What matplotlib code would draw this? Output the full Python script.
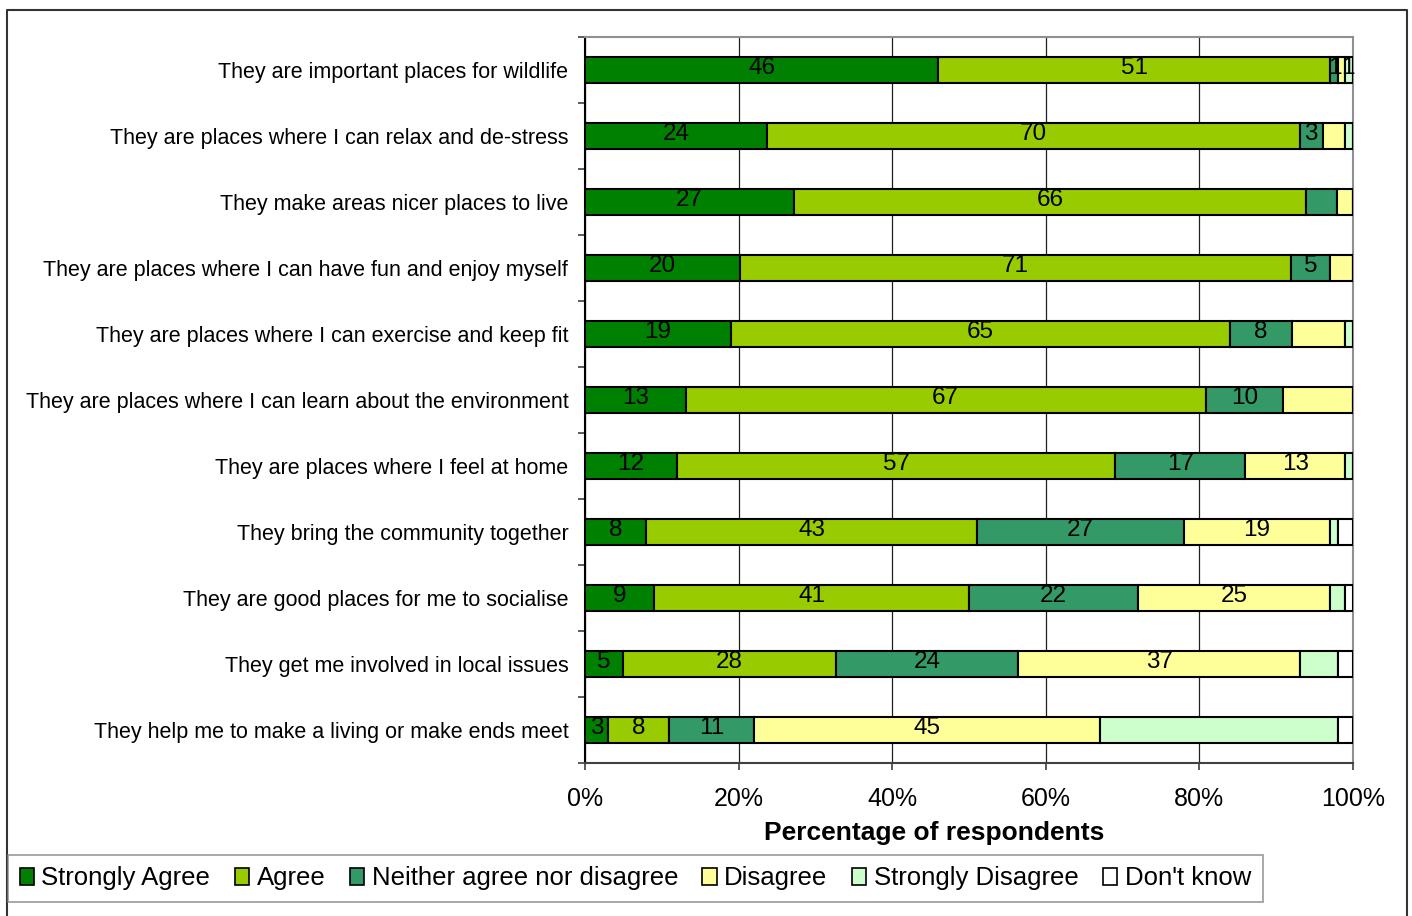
import numpy as np
import matplotlib
matplotlib.use("Agg")
import matplotlib.pyplot as plt
from matplotlib.lines import Line2D

plt.rcParams['font.family'] = ['Liberation Sans', 'DejaVu Sans']

### statements, top to bottom
statements = [
    "They are important places for wildlife",
    "They are places where I can relax and de-stress",
    "They make areas nicer places to live",
    "They are places where I can have fun and enjoy myself",
    "They are places where I can exercise and keep fit",
    "They are places where I can learn about the environment",
    "They are places where I feel at home",
    "They bring the community together",
    "They are good places for me to socialise",
    "They get me involved in local issues",
    "They help me to make a living or make ends meet",
]

responses = ["Strongly Agree", "Agree", "Neither agree nor disagree",
             "Disagree", "Strongly Disagree", "Don't know"]

strongly_agree = [46, 24, 27, 20, 19, 13, 12, 8, 9, 5, 3]
agree = [51, 70, 66, 71, 65, 67, 57, 43, 41, 28, 8]
neither = [1, 3, 4, 5, 8, 10, 17, 27, 22, 24, 11]
disagree = [1, 3, 2, 3, 7, 9, 13, 19, 25, 37, 45]
strongly_disagree = [1, 1, 0, 0, 1, 0, 1, 1, 2, 5, 31]
dont_know = [0, 0, 0, 0, 0, 0, 0, 2, 1, 2, 2]

# which values got a data label in the original (one flag per response)
shown = [
    [1, 1, 0, 1, 1, 0],
    [1, 1, 1, 0, 0, 0],
    [1, 1, 0, 0, 0, 0],
    [1, 1, 1, 0, 0, 0],
    [1, 1, 1, 0, 0, 0],
    [1, 1, 1, 0, 0, 0],
    [1, 1, 1, 1, 0, 0],
    [1, 1, 1, 1, 0, 0],
    [1, 1, 1, 1, 0, 0],
    [1, 1, 1, 1, 0, 0],
    [1, 1, 1, 1, 0, 0],
]

colors = ["#008000", "#99CC00", "#339966", "#FFFF99", "#CCFFCC", "#FFFFFF"]

data = np.array([strongly_agree, agree, neither, disagree,
                 strongly_disagree, dont_know], dtype=float)
pct = data / data.sum(axis=0) * 100

W, H = 1412, 916
fig = plt.figure(figsize=(W / 100, H / 100), dpi=100)
ax = fig.add_axes([585 / W, 1 - 763 / H, 768 / W, 726 / H])

y = np.arange(len(statements))
left = np.zeros(len(statements))
for i, name in enumerate(responses):
    ax.barh(y, pct[i], left=left, height=0.39, color=colors[i],
            edgecolor="black", linewidth=1.5, label=name, zorder=3)
    for j in range(len(statements)):
        if not shown[j][i]:
            continue
        xpos, ha = left[j] + pct[i][j] / 2, "center"
        # tiny neighbouring segments: butt the two labels against each other
        if pct[i][j] < 2 and i + 1 < len(responses) and shown[j][i + 1]:
            xpos, ha = left[j] + pct[i][j] * 0.5, "right"
        elif pct[i][j] < 2 and i > 0 and shown[j][i - 1] and pct[i - 1][j] < 2:
            xpos, ha = left[j] - pct[i - 1][j] * 0.5, "left"
        ax.text(xpos, y[j] - 0.03, "%d" % data[i][j],
                ha=ha, va="center", fontsize=17.5, zorder=4)
    left += pct[i]

ax.set_xlim(0, 100)
ax.set_ylim(len(statements) - 0.5, -0.5)
ax.set_xticks(np.arange(0, 101, 20))
ax.set_xticklabels(["%d%%" % v for v in range(0, 101, 20)], fontsize=18)
ax.tick_params(axis="x", length=5, width=1.2, color="#404040", pad=12)

ax.set_yticks(y)
ax.set_yticklabels(statements, fontsize=15.5)
ax.tick_params(axis="y", which="major", length=0, pad=12)
ax.set_yticks(np.arange(-0.5, len(statements), 1), minor=True)
ax.tick_params(axis="y", which="minor", length=5, width=1.2, color="#404040")

ax.xaxis.grid(True, color="#202020", linewidth=0.9, zorder=0)
ax.spines["left"].set_color("black")
ax.spines["left"].set_linewidth(1.5)
ax.spines["bottom"].set_color("#404040")
ax.spines["bottom"].set_linewidth(1.5)
ax.spines["top"].set_color("#909090")
ax.spines["top"].set_linewidth(1.5)
ax.spines["right"].set_color("#909090")
ax.spines["right"].set_linewidth(1.5)

fig.text(934 / W, 1 - 833 / H, "Percentage of respondents", ha="center",
         va="center", fontsize=19, fontweight="bold")

leg = fig.legend(loc="lower left", bbox_to_anchor=(8 / W, 14 / H), ncol=6,
                 fontsize=18.5, frameon=True, fancybox=False,
                 handlelength=0.55, handleheight=0.65, handletextpad=0.3,
                 columnspacing=0.95, borderpad=0.45, borderaxespad=0)
leg.get_frame().set_edgecolor("#808080")
leg.get_frame().set_linewidth(1.2)
for p in leg.get_patches():
    p.set_linewidth(1.2)

# outer chart frame
fig.add_artist(Line2D([7 / W, 7 / W, 1407 / W, 1407 / W],
                      [0, 1 - 10 / H, 1 - 10 / H, 0],
                      transform=fig.transFigure, color="#333333", linewidth=1.5))

fig.savefig("out.png", dpi=100)
